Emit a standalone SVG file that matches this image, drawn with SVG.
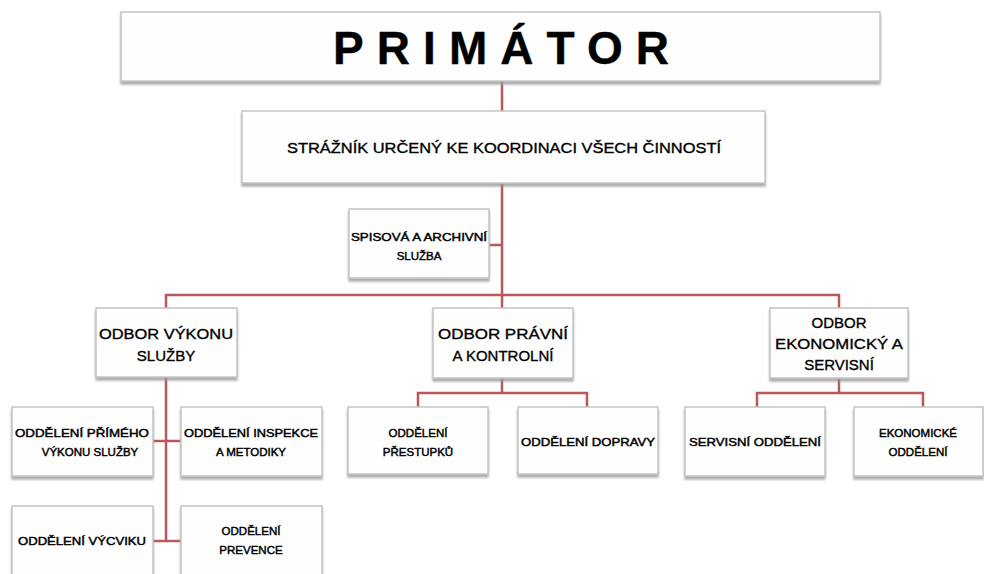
<svg xmlns="http://www.w3.org/2000/svg" width="984" height="574" viewBox="0 0 984 574">
<defs>
<filter id="sh" x="-5%" y="-5%" width="110%" height="125%">
<feDropShadow dx="0" dy="3" stdDeviation="1" flood-color="#9a9a9a" flood-opacity="0.8"/>
</filter>
<style>
.box{fill:#fefefe;stroke:#c4c4c4;stroke-width:1.5;filter:url(#sh)}
.t{font-family:"Liberation Sans",Arial,sans-serif;fill:#000;stroke:#000;stroke-width:0.35;text-anchor:middle}
.m{font-size:15px}
.s{font-size:11.5px;stroke-width:0.45}
.c{fill:none;stroke:#b9575a;stroke-width:2.5}
</style>
</defs>
<rect width="984" height="574" fill="#ffffff"/>
<g id="connectors">
<path class="c" d="M502,81 V296"/>
<path class="c" d="M489,245 H502"/>
<path class="c" d="M166,308 V295 H839 V308"/>
<path class="c" d="M502,295 V308"/>
<path class="c" d="M166,377 V541"/>
<path class="c" d="M153,441 H181"/>
<path class="c" d="M153,541 H181"/>
<path class="c" d="M502,378 V393 M418,407 V393 H587 V407"/>
<path class="c" d="M839,378 V393 M757,407 V393 H923 V407"/>
</g>
<g id="primator">
<rect class="box" x="121" y="12" width="759" height="69"/>
<text class="t" x="501" y="64" font-size="46" font-weight="bold" stroke-width="0" textLength="336" lengthAdjust="spacing">PRIMÁTOR</text>
</g>
<g id="straznik">
<rect class="box" x="242" y="111" width="523" height="72"/>
<text class="t m" x="504" y="153" textLength="434" lengthAdjust="spacingAndGlyphs">STRÁŽNÍK URČENÝ KE KOORDINACI VŠECH ČINNOSTÍ</text>
</g>
<g id="spisova">
<rect class="box" x="349" y="209" width="140" height="69"/>
<text class="t s" x="419" y="241" textLength="136" lengthAdjust="spacingAndGlyphs">SPISOVÁ A ARCHIVNÍ</text>
<text class="t s" x="419" y="260">SLUŽBA</text>
</g>
<g id="odbor-vykonu">
<rect class="box" x="96" y="308" width="141" height="69"/>
<text class="t m" x="166" y="339" textLength="134" lengthAdjust="spacingAndGlyphs">ODBOR VÝKONU</text>
<text class="t m" x="166" y="361">SLUŽBY</text>
</g>
<g id="odbor-pravni">
<rect class="box" x="433" y="308" width="140" height="70"/>
<text class="t m" x="503" y="339" textLength="130" lengthAdjust="spacingAndGlyphs">ODBOR PRÁVNÍ</text>
<text class="t m" x="503" y="361">A KONTROLNÍ</text>
</g>
<g id="odbor-ekonomicky">
<rect class="box" x="770" y="308" width="138" height="70"/>
<text class="t m" x="839" y="328">ODBOR</text>
<text class="t m" x="839" y="349" textLength="128" lengthAdjust="spacingAndGlyphs">EKONOMICKÝ A</text>
<text class="t m" x="839" y="370">SERVISNÍ</text>
</g>
<g id="oddeleni-primeho">
<rect class="box" x="12" y="407" width="141" height="69"/>
<text class="t s" x="82" y="437" textLength="134" lengthAdjust="spacingAndGlyphs">ODDĚLENÍ PŘÍMÉHO</text>
<text class="t s" x="90" y="456">VÝKONU SLUŽBY</text>
</g>
<g id="oddeleni-inspekce">
<rect class="box" x="181" y="407" width="141" height="69"/>
<text class="t s" x="251" y="437" textLength="134" lengthAdjust="spacingAndGlyphs">ODDĚLENÍ INSPEKCE</text>
<text class="t s" x="251" y="456">A METODIKY</text>
</g>
<g id="oddeleni-vycviku">
<rect class="box" x="12" y="506" width="141" height="72"/>
<text class="t s" x="82" y="545" textLength="128" lengthAdjust="spacingAndGlyphs">ODDĚLENÍ VÝCVIKU</text>
</g>
<g id="oddeleni-prevence">
<rect class="box" x="181" y="506" width="141" height="72"/>
<text class="t s" x="251" y="535">ODDĚLENÍ</text>
<text class="t s" x="251" y="554">PREVENCE</text>
</g>
<g id="oddeleni-prestupku">
<rect class="box" x="348" y="407" width="140" height="67"/>
<text class="t s" x="418" y="437">ODDĚLENÍ</text>
<text class="t s" x="418" y="456">PŘESTUPKŮ</text>
</g>
<g id="oddeleni-dopravy">
<rect class="box" x="518" y="407" width="140" height="67"/>
<text class="t s" x="588" y="446" textLength="134" lengthAdjust="spacingAndGlyphs">ODDĚLENÍ DOPRAVY</text>
</g>
<g id="servisni-oddeleni">
<rect class="box" x="685" y="407" width="140" height="69"/>
<text class="t s" x="755" y="446" textLength="132" lengthAdjust="spacingAndGlyphs">SERVISNÍ ODDĚLENÍ</text>
</g>
<g id="ekonomicke-oddeleni">
<rect class="box" x="854" y="407" width="129" height="69"/>
<text class="t s" x="918" y="437">EKONOMICKÉ</text>
<text class="t s" x="918" y="456">ODDĚLENÍ</text>
</g>
</svg>
